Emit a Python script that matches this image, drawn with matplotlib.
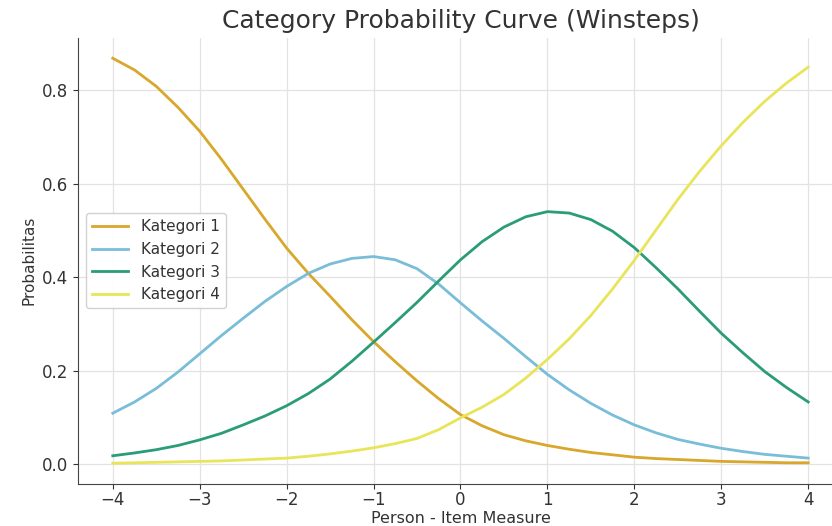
import numpy as np
import matplotlib
matplotlib.use('Agg')
from matplotlib import pyplot as plt

################################################################################
# values (0.25 step)
theta = np.arange(-4, 4.01, 0.25)

kategori1 = [0.868, 0.843, 0.808, 0.763, 0.712, 0.652, 0.588, 0.524, 0.462,
             0.408, 0.359, 0.309, 0.262, 0.219, 0.178, 0.140, 0.106, 0.082,
             0.063, 0.050, 0.040, 0.032, 0.025, 0.020, 0.015, 0.012, 0.010,
             0.008, 0.006, 0.005, 0.004, 0.003, 0.003]
kategori2 = [0.109, 0.133, 0.162, 0.197, 0.236, 0.275, 0.312, 0.348, 0.380,
             0.408, 0.428, 0.440, 0.444, 0.437, 0.418, 0.385, 0.345, 0.306,
             0.269, 0.230, 0.192, 0.159, 0.130, 0.105, 0.084, 0.067, 0.053,
             0.043, 0.034, 0.027, 0.021, 0.017, 0.013]
kategori3 = [0.018, 0.024, 0.031, 0.040, 0.052, 0.066, 0.084, 0.103, 0.125,
             0.151, 0.182, 0.220, 0.261, 0.303, 0.346, 0.392, 0.437, 0.476,
             0.507, 0.529, 0.540, 0.537, 0.523, 0.498, 0.463, 0.420, 0.375,
             0.327, 0.280, 0.238, 0.198, 0.164, 0.133]
kategori4 = [0.002, 0.003, 0.004, 0.005, 0.006, 0.007, 0.009, 0.011, 0.013,
             0.017, 0.022, 0.028, 0.035, 0.044, 0.055, 0.074, 0.099, 0.122,
             0.149, 0.184, 0.224, 0.268, 0.318, 0.375, 0.436, 0.501, 0.566,
             0.626, 0.681, 0.731, 0.776, 0.815, 0.849]

labels = ['Kategori 1', 'Kategori 2', 'Kategori 3', 'Kategori 4']
colors = ['#D8A72B', '#7ABDD8', '#2A9C78', '#E8E55A']
################################################################################

W, H = 832, 526
fig = plt.figure(figsize=(W / 100, H / 100), dpi=100)
ax = fig.add_axes([78 / W, (H - 483.5) / H, (843 - 78) / W, (483.5 - 38) / H])

for vals, lab, col in zip([kategori1, kategori2, kategori3, kategori4], labels, colors):
    ax.plot(theta, vals, color=col, lw=2, label=lab)

ax.grid(True, color='#e3e3e3', lw=0.9)
ax.set_axisbelow(True)
for s in ['top', 'right']:
    ax.spines[s].set_visible(False)
for s in ['left', 'bottom']:
    ax.spines[s].set_color('#444444')

ax.set_xticks(range(-4, 5))
ax.set_yticks([0.0, 0.2, 0.4, 0.6, 0.8])
ax.tick_params(labelsize=12, colors='#333333')
ax.tick_params(axis='x', pad=2)

ax.set_title('Category Probability Curve (Winsteps)', fontsize=18, color='#333333', pad=7)
ax.set_xlabel('Person - Item Measure', fontsize=11.5, color='#333333', labelpad=1)
ax.set_ylabel('Probabilitas', fontsize=11, color='#333333', labelpad=4)

ax.legend(loc='center left', bbox_to_anchor=(0.0, 0.5), fontsize=11,
          handlelength=2.4, framealpha=0.9, edgecolor='#cccccc',
          labelcolor='#333333')

fig.savefig('out.png', dpi=100)
